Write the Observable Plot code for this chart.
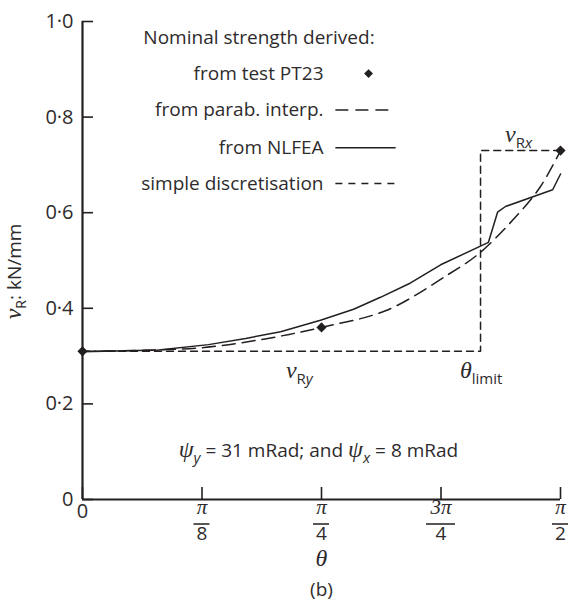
<!DOCTYPE html>
<html><head><meta charset="utf-8">
<script src="https://cdn.jsdelivr.net/npm/d3@7"></script>
<script src="https://cdn.jsdelivr.net/npm/@observablehq/plot@0.6"></script>
<style>body{margin:0;background:#fff}</style>
</head><body><div id="chart"></div>
<script>
const PI = Math.PI;
// Nominal strength from test PT23
const testTheta = [0, PI / 4, PI / 2];
const testV = [0.31, 0.36, 0.73];
// from parabolic interpolation
const parabTheta = [0, 0.2, 0.4, 0.6, 0.785, 1.0, 1.2, 1.3, 1.4, 1.5, 1.571];
const parabV = [0.31, 0.312, 0.318, 0.336, 0.36, 0.396, 0.47, 0.513, 0.575, 0.65, 0.73];
// from NLFEA
const nlfeaTheta = [0, 0.25, 0.414, 0.536, 0.651, 0.782, 0.891, 0.979, 1.078, 1.177, 1.334, 1.364, 1.39, 1.545, 1.571];
const nlfeaV = [0.309, 0.313, 0.324, 0.337, 0.351, 0.375, 0.398, 0.423, 0.453, 0.491, 0.538, 0.601, 0.613, 0.648, 0.681];
// simple discretisation
const discTheta = [0, 1.308, 1.308, 1.571];
const discV = [0.31, 0.31, 0.73, 0.73];

// axis ticks
const xTicks = [0, PI / 8, PI / 4, 3 * PI / 8, PI / 2];
const xTickNum = ["", "π", "π", "3π", "π"];
const xTickDen = ["", "8", "4", "4", "2"];
const yTicks = [0, 0.2, 0.4, 0.6, 0.8, 1.0];
const yTickLabels = ["0", "0·2", "0·4", "0·6", "0·8", "1·0"];

// legend
const legendTitle = "Nominal strength derived:";
const legendLabels = ["from test PT23", "from parab. interp.", "from NLFEA", "simple discretisation"];
const legendV = [0.891, 0.815, 0.736, 0.661];

const ink = "#231f20";
const txt = "#2e2b2c";
const sans = "'Open Sans', 'Noto Sans', sans-serif";
const serif = "'Liberation Serif', 'DejaVu Serif', serif";
const FS = 19;
const TFS = 20;
const GFS = 24;

const zip = (xs, ys) => xs.map((x, i) => ({x, y: ys[i]}));
const parab = zip(parabTheta, parabV);
const nlfea = zip(nlfeaTheta, nlfeaV);
const disc = zip(discTheta, discV);
const tests = zip(testTheta, testV);

// rich-text annotations placed in data coordinates
const annotations = [
  {x: 0.670, y: 0.254, parts: [["ν", "greek"], ["R", "sub"], ["y", "subi"]]},
  {x: 1.242, y: 0.254, parts: [["θ", "greek"], ["limit", "sub"]]},
  {x: 1.390, y: 0.746, parts: [["ν", "greek"], ["R", "sub"], ["x", "subi"]]},
  {x: 0.777, y: 0.087, anchor: "middle", parts: [["ψ", "greek"], ["y", "subi"], [" = 31 mRad; and ", "plain"], ["ψ", "greek"], ["x", "subi"], [" = 8 mRad", "plain"]]}
];

function richText(items) {
  return (index, scales) => {
    const g = d3.create("svg:g").attr("fill", txt);
    for (const a of items) {
      const t = g.append("text")
        .attr("x", scales.x(a.x)).attr("y", scales.y(a.y))
        .attr("text-anchor", a.anchor || "start")
        .attr("font-family", sans).attr("font-size", FS);
      let cur = 0;
      for (const [s, kind] of a.parts) {
        const sp = t.append("tspan").text(s);
        let off = 0;
        if (kind === "greek") {
          sp.attr("font-family", serif).attr("font-style", "italic").attr("font-size", GFS);
        } else if (kind === "sub" || kind === "subi") {
          off = 6;
          sp.attr("font-size", FS - 4);
          if (kind === "subi") sp.attr("font-style", "italic");
        }
        if (off !== cur) sp.attr("dy", off - cur);
        cur = off;
      }
    }
    return g.node();
  };
}

function extras() {
  return (index, scales, values, dimensions) => {
    const g = d3.create("svg:g");
    // fraction bars under numerators
    const bottom = dimensions.height - dimensions.marginBottom;
    xTicks.forEach((t, i) => {
      if (!xTickDen[i]) return;
      const w = xTickNum[i].length > 1 ? 29 : 16;
      const cx = scales.x(t);
      g.append("line").attr("x1", cx - w / 2).attr("x2", cx + w / 2)
        .attr("y1", bottom + 25).attr("y2", bottom + 25)
        .attr("stroke", txt).attr("stroke-width", 1.6);
    });
    // y axis label
    const lx = dimensions.marginLeft - 61;
    const ly = scales.y(0.476);
    const t = g.append("text").attr("transform", `translate(${lx},${ly}) rotate(-90)`)
      .attr("text-anchor", "middle").attr("fill", txt)
      .attr("font-family", sans).attr("font-size", FS);
    t.append("tspan").text("ν").attr("font-family", serif).attr("font-style", "italic").attr("font-size", GFS);
    t.append("tspan").text("R").attr("font-size", FS - 5).attr("dy", 5);
    t.append("tspan").text(": kN/mm").attr("dy", -5);
    return g.node();
  };
}

const plot = Plot.plot({
  width: 569, height: 605,
  marginLeft: 82, marginRight: 9, marginTop: 21, marginBottom: 106,
  x: {domain: [0, PI / 2], axis: null},
  y: {domain: [0, 1], axis: null},
  style: {fontFamily: sans, fontSize: FS + "px", color: txt, background: "white"},
  marks: [
    Plot.axisY({ticks: yTicks, tickFormat: d => yTickLabels[yTicks.indexOf(d)], tickSize: -11, tickPadding: 20,
      stroke: ink, strokeWidth: 1.6, fontSize: TFS, label: null}),
    Plot.axisX({ticks: xTicks, tickFormat: () => "", tickSize: -12, tickPadding: 0,
      stroke: ink, strokeWidth: 1.6, label: null}),
    Plot.ruleX([0], {y1: 0, y2: 1, stroke: ink, strokeWidth: 2.2}),
    Plot.ruleY([0], {x1: 0, x2: PI / 2, stroke: ink, strokeWidth: 2.2}),
    // x tick labels
    Plot.text([0], {x: d => d, frameAnchor: "bottom", dy: 18, text: () => "0", fontSize: TFS, fill: txt}),
    Plot.text(xTicks.slice(1), {x: d => d, frameAnchor: "bottom", dy: 14, text: (d, i) => xTickNum[i + 1],
      fontFamily: serif, fontStyle: "italic", fontSize: 21, fill: txt}),
    Plot.text(xTicks.slice(1), {x: d => d, frameAnchor: "bottom", dy: 40, text: (d, i) => xTickDen[i + 1],
      fontSize: 19, fill: txt}),
    // axis title and caption
    Plot.text([PI / 4], {x: d => d, frameAnchor: "bottom", dy: 66, text: () => "θ",
      fontFamily: serif, fontStyle: "italic", fontSize: GFS, fill: txt}),
    Plot.text([PI / 4], {x: d => d, frameAnchor: "bottom", dy: 96, text: () => "(b)", fontSize: FS, fill: txt}),
    // data
    Plot.line(disc, {x: "x", y: "y", stroke: ink, strokeWidth: 1.5, strokeDasharray: "7,5"}),
    Plot.line(parab, {x: "x", y: "y", stroke: ink, strokeWidth: 1.5, strokeDasharray: "13,7", curve: "catmull-rom"}),
    Plot.line(nlfea, {x: "x", y: "y", stroke: ink, strokeWidth: 1.5}),
    Plot.dot(tests, {x: "x", y: "y", symbol: "diamond2", r: 4.6, fill: ink}),
    // legend
    Plot.text([legendTitle], {x: 0.2, y: 0.966, text: d => d, textAnchor: "start", fontSize: FS, fill: txt}),
    Plot.text(legendLabels, {x: 0.792, y: (d, i) => legendV[i], text: d => d, textAnchor: "end", fontSize: FS, fill: txt}),
    Plot.dot([0], {x: 0.94, y: legendV[0], symbol: "diamond2", r: 4, fill: ink}),
    Plot.link([0], {x1: 0.831, x2: 1.005, y1: legendV[1], y2: legendV[1], stroke: ink, strokeWidth: 1.5, strokeDasharray: "13,7"}),
    Plot.link([0], {x1: 0.831, x2: 1.029, y1: legendV[2], y2: legendV[2], stroke: ink, strokeWidth: 1.5}),
    Plot.link([0], {x1: 0.831, x2: 1.029, y1: legendV[3], y2: legendV[3], stroke: ink, strokeWidth: 1.5, strokeDasharray: "7,6"}),
    richText(annotations),
    extras()
  ]
});
document.getElementById("chart").append(plot);
</script>
</body></html>
